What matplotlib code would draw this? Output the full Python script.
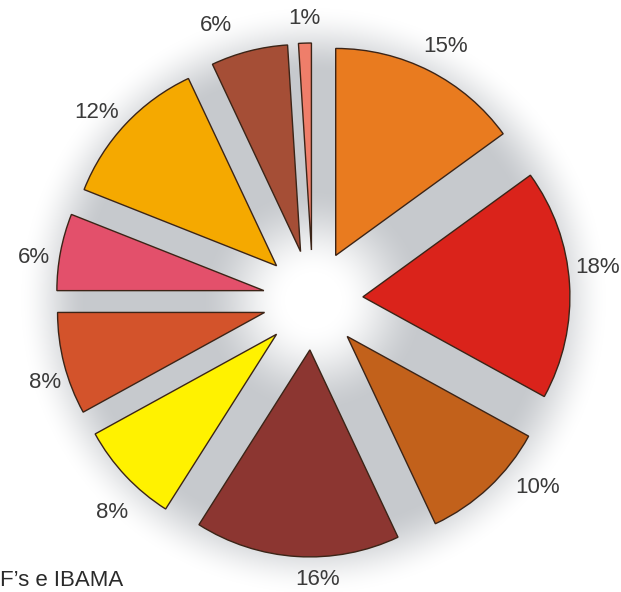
import numpy as np
import matplotlib
matplotlib.use("Agg")
import matplotlib.pyplot as plt
from matplotlib.colors import LinearSegmentedColormap

plt.rcParams['font.family'] = ['Liberation Sans', 'DejaVu Sans']

# share of each group, clockwise from the top
shares = [15, 18, 10, 16, 8, 8, 6, 12, 6, 1]
slice_colors = ['#E97B1F', '#DA231B', '#C2611B', '#8C3631', '#FFF200',
                '#D3532B', '#E3506B', '#F5A900', '#A54E36', '#EF7E6A']
source_note = "F\u2019s e IBAMA"

W, H = 621, 592
cx, cy = 313, 292
R = 207
gap = 50  # how far each wedge is pulled out, in pixels

# small hand nudges for the percentage labels (pixels, x right / y up)
label_shift = [(2, -3), (-3, 14), (27, 22), (23, 8), (9, -15),
               (11, -11), (4, -11), (-6, -10), (-25, -5), (0, -6)]

fig = plt.figure(figsize=(W / 100, H / 100), dpi=100)
ax = fig.add_axes([0, 0, 1, 1])

# soft grey halo behind the wedges (bright in the middle, fading out past the rim)
yy, xx = np.mgrid[0:H, 0:W]
rr = np.hypot(xx - cx, (H - yy) - cy)
def smooth(a, b, r):
    t = np.clip((r - a) / (b - a), 0, 1)
    return t * t * (3 - 2 * t)
shade = smooth(25, 115, rr) * (1 - smooth(225, 295, rr))
halo = LinearSegmentedColormap.from_list('halo', ['#ffffff', '#c6c9cd'])
ax.imshow(shade, cmap=halo, vmin=0, vmax=1, extent=(0, W, 0, H),
          origin='upper', zorder=0, interpolation='bilinear')

wedges, labels, pcts = ax.pie(
    shares, colors=slice_colors, startangle=90, counterclock=False,
    explode=[gap] * len(shares), radius=R, center=(cx, cy),
    autopct=lambda p: f'{p:.0f}%', pctdistance=1.15,
    wedgeprops=dict(edgecolor='#3b2417', linewidth=1.0),
    textprops=dict(fontsize=16, color='#3a3a3a'))
for w in wedges:
    w.set_zorder(2)
for t, (dx, dy) in zip(pcts, label_shift):
    x, y = t.get_position()
    t.set_position((x + dx, y + dy))

ax.text(0, 12, source_note, fontsize=16, color='#2a2a2a',
        ha='left', va='center')

ax.set_xlim(0, W)
ax.set_ylim(0, H)
ax.set_aspect('equal')
ax.axis('off')

fig.savefig('out.png', dpi=100, facecolor='white')
